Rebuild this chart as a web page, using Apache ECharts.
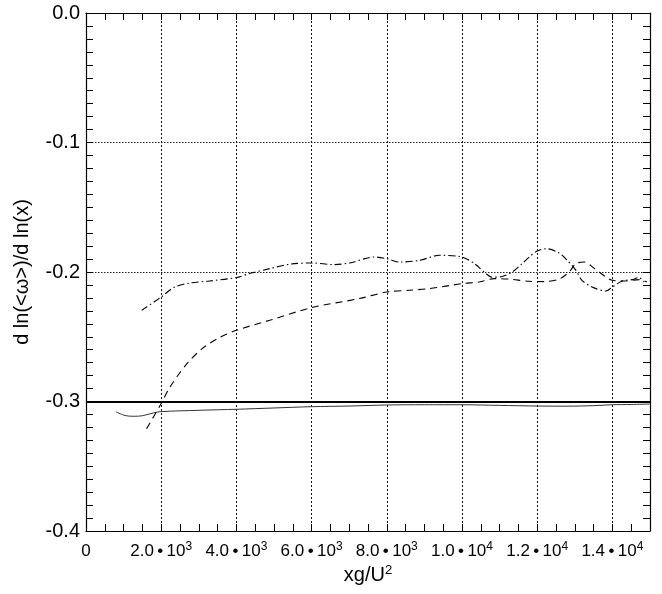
<!DOCTYPE html>
<html>
<head>
<meta charset="utf-8">
<script src="https://cdn.jsdelivr.net/npm/echarts@6/dist/echarts.min.js"></script>
<style>html,body{margin:0;padding:0;background:#fff}#c{width:662px;height:594px}</style>
</head>
<body>
<div id="c"></div>
<script>
// ---- data ----
var solidX = [800, 1000, 1150, 1300, 1500, 1800, 2000, 3000, 4000, 5000, 6000, 7000, 8000, 9000, 10000, 11000, 12000, 12800, 13500, 14000, 14500, 15000];
var solidY = [-0.308, -0.3105, -0.3113, -0.3114, -0.311, -0.3088, -0.3078, -0.3068, -0.306, -0.305, -0.304, -0.3035, -0.3027, -0.3025, -0.3025, -0.303, -0.3035, -0.3036, -0.3032, -0.3025, -0.3023, -0.302];

var dashX = [1611, 2000, 2230, 2673, 3106, 3557, 4000, 4885, 6000, 7274, 8000, 8600, 9130, 10000, 10460, 10860, 11260, 11790, 12185, 12580, 12850, 13030, 13250, 13510, 13830, 14000, 14310, 14710, 14920];
var dashY = [-0.321, -0.3016, -0.289, -0.2712, -0.2588, -0.2505, -0.245, -0.2373, -0.2275, -0.2205, -0.2154, -0.2141, -0.2128, -0.209, -0.2077, -0.2051, -0.2055, -0.2072, -0.2074, -0.2055, -0.2, -0.1935, -0.1923, -0.197, -0.2039, -0.2064, -0.2069, -0.2059, -0.2077];

var dotdashX = [1480, 2000, 2360, 2760, 3290, 4000, 4350, 4885, 5415, 6000, 6610, 7010, 7670, 8000, 8340, 8870, 9400, 10000, 10330, 10590, 10800, 11070, 11340, 11600, 11790, 12000, 12240, 12580, 12800, 13030, 13190, 13460, 13830, 14000, 14260, 14520, 14710, 14840];
var dotdashY = [-0.2296, -0.2193, -0.2116, -0.2085, -0.2069, -0.2043, -0.2012, -0.1974, -0.194, -0.193, -0.1943, -0.193, -0.1884, -0.1897, -0.1923, -0.191, -0.1871, -0.1884, -0.1935, -0.2, -0.204, -0.2035, -0.2, -0.1935, -0.1884, -0.1838, -0.182, -0.1853, -0.191, -0.1987, -0.2064, -0.2116, -0.2147, -0.2116, -0.2069, -0.2059, -0.2043, -0.2077];

var refLevel = -0.3;

var xTickMant = ['0', '2.0', '4.0', '6.0', '8.0', '1.0', '1.2', '1.4'];
var xTickExp = ['', '3', '3', '3', '3', '4', '4', '4'];
var yTickLabels = ['-0.4', '-0.3', '-0.2', '-0.1', '0.0'];

function pairs(xs, ys) { return xs.map(function (x, i) { return [x, ys[i]]; }); }

var FONT = '"Liberation Sans", Arial, Helvetica, sans-serif';
var chart = echarts.init(document.getElementById('c'), null, {renderer: 'canvas'});

var tickStyle = {color: '#000', width: 1};
var baseX = {
  type: 'value', min: 0, max: 15000, interval: 2000,
  axisLine: {show: true, onZero: false, lineStyle: {color: '#000', width: 1.2}},
  axisTick: {show: true, inside: true, length: 7, lineStyle: tickStyle},
  minorTick: {show: true, splitNumber: 4, length: 7, lineStyle: tickStyle}
};
var baseY = {
  type: 'value', min: -0.4, max: 0, interval: 0.1,
  axisLine: {show: true, onZero: false, lineStyle: {color: '#000', width: 1.2}},
  axisTick: {show: true, inside: true, length: 7, lineStyle: tickStyle},
  minorTick: {show: true, splitNumber: 10, length: 7, lineStyle: tickStyle}
};

var option = {
  animation: false,
  backgroundColor: '#fff',
  textStyle: {fontFamily: FONT},
  grid: {left: 86, right: 12, top: 13, bottom: 63, containLabel: false},
  xAxis: [
    Object.assign({}, baseX, {
      position: 'bottom',
      name: '{a|xg/U}{s|2}',
      nameLocation: 'middle',
      nameGap: 23,
      nameTextStyle: {
        fontFamily: FONT, color: '#000',
        rich: {a: {fontSize: 20, fontFamily: FONT, color: '#000', lineHeight: 22},
               s: {fontSize: 13, fontFamily: FONT, color: '#000', verticalAlign: 'top', lineHeight: 13}}
      },
      splitLine: {show: true, lineStyle: {color: '#111', width: 1, type: [2, 2]}},
      axisLabel: {
        show: true, margin: 10, color: '#000',
        formatter: function (v) {
          var i = Math.round(v / 2000);
          if (i === 0) return '{a|' + xTickMant[0] + '}';
          return '{a|' + xTickMant[i] + '\u2009\u2022\u2009' + '10}{s|' + xTickExp[i] + '}';
        },
        rich: {
          a: {fontSize: 17, fontFamily: FONT, color: '#000', lineHeight: 20},
          s: {fontSize: 12, fontFamily: FONT, color: '#000', verticalAlign: 'top', lineHeight: 12}
        }
      }
    }),
    Object.assign({}, baseX, {
      position: 'top',
      axisLabel: {show: false},
      splitLine: {show: false}
    })
  ],
  yAxis: [
    Object.assign({}, baseY, {
      position: 'left',
      name: 'd ln(<\u03c9>)/d ln(x)',
      nameLocation: 'middle',
      nameGap: 54,
      nameTextStyle: {fontSize: 20, fontFamily: FONT, color: '#000'},
      splitLine: {show: true, lineStyle: {color: '#222', width: 1, type: [1.5, 1.5]}},
      axisLabel: {
        show: true, margin: 6, color: '#000', fontSize: 20, fontFamily: FONT,
        formatter: function (v) {
          var i = Math.round((v + 0.4) / 0.1);
          return yTickLabels[i];
        }
      }
    }),
    Object.assign({}, baseY, {
      position: 'right',
      axisLabel: {show: false},
      splitLine: {show: false}
    })
  ],
  series: [
    {
      type: 'line', name: 'solid', data: pairs(solidX, solidY), showSymbol: false, smooth: 0.3,
      lineStyle: {color: '#333', width: 1, type: 'solid'},
      markLine: {
        silent: true, symbol: ['none', 'none'], label: {show: false},
        lineStyle: {color: '#000', width: 2.2, type: 'solid'},
        data: [{yAxis: refLevel}]
      }
    },
    {
      type: 'line', name: 'dashed', data: pairs(dashX, dashY), showSymbol: false, smooth: 0.3,
      lineStyle: {color: '#000', width: 1.1, type: [7, 5]}
    },
    {
      type: 'line', name: 'dotdash', data: pairs(dotdashX, dotdashY), showSymbol: false, smooth: 0.3,
      lineStyle: {color: '#000', width: 1.1, type: [7, 3, 1.5, 3]}
    }
  ]
};
chart.setOption(option);
</script>
</body>
</html>
